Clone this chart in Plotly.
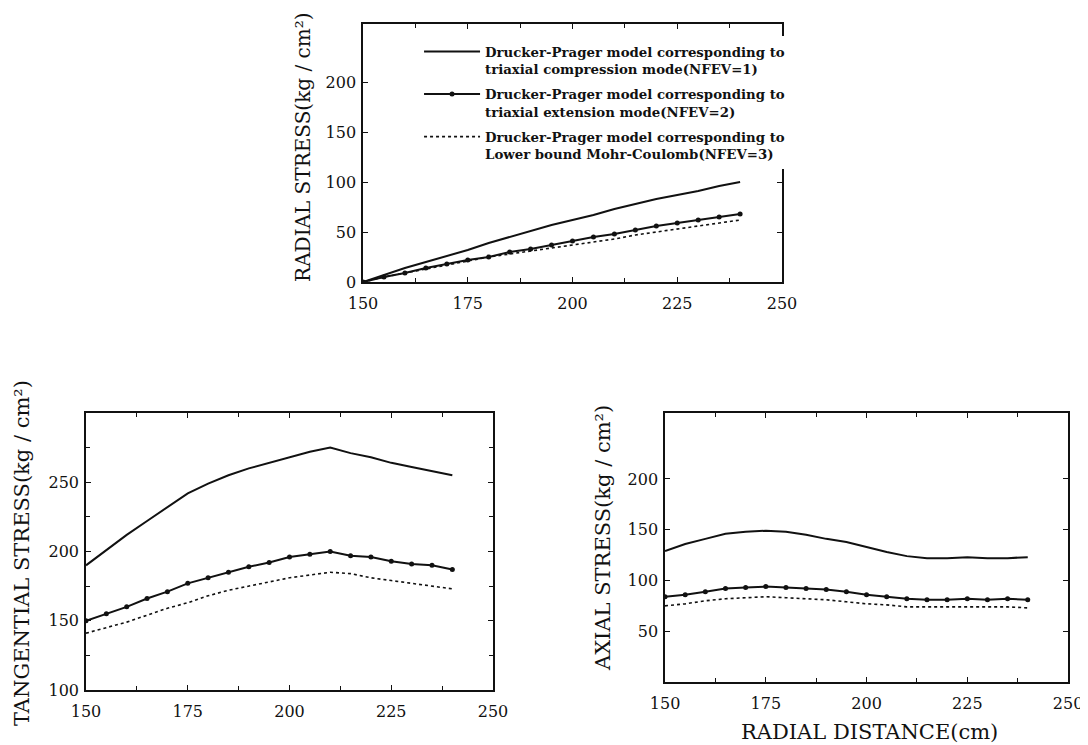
import plotly.graph_objects as go

# Radial distance (cm)
radial_distance = [150, 155, 160, 165, 170, 175, 180, 185, 190, 195, 200,
                   205, 210, 215, 220, 225, 230, 235, 240]

series_names = [
    "Drucker-Prager model corresponding to<br>triaxial compression mode(NFEV=1)",
    "Drucker-Prager model corresponding to<br>triaxial extension mode(NFEV=2)",
    "Drucker-Prager model corresponding to<br>Lower bound Mohr-Coulomb(NFEV=3)",
]

# Radial stress (kg/cm^2)
radial_nfev1 = [0, 7, 14, 20, 26, 32, 39, 45, 51, 57, 62, 67, 73, 78, 83, 87, 91, 96, 100]
radial_nfev2 = [0, 5, 9, 14, 18, 22, 25, 30, 33, 37, 41, 45, 48, 52, 56, 59, 62, 65, 68]
radial_nfev3 = [0, 5, 9, 13, 17, 21, 25, 28, 31, 34, 37, 40, 43, 47, 50, 53, 56, 59, 62]

# Tangential stress (kg/cm^2)
tang_nfev1 = [190, 201, 212, 222, 232, 242, 249, 255, 260, 264, 268, 272, 275, 271, 268, 264, 261, 258, 255]
tang_nfev2 = [150, 155, 160, 166, 171, 177, 181, 185, 189, 192, 196, 198, 200, 197, 196, 193, 191, 190, 187]
tang_nfev3 = [141, 145, 149, 154, 159, 163, 168, 172, 175, 178, 181, 183, 185, 184, 181, 179, 177, 175, 173]

# Axial stress (kg/cm^2)
axial_nfev1 = [129, 136, 141, 146, 148, 149, 148, 145, 141, 138, 133, 128, 124, 122, 122, 123, 122, 122, 123]
axial_nfev2 = [84, 86, 89, 92, 93, 94, 93, 92, 91, 89, 86, 84, 82, 81, 81, 82, 81, 82, 81]
axial_nfev3 = [75, 77, 80, 82, 83, 84, 83, 82, 81, 79, 77, 76, 74, 74, 74, 74, 74, 74, 73]

x_ticks = [150, 175, 200, 225, 250]
radial_ticks = [0, 50, 100, 150, 200]
tang_ticks = [100, 150, 200, 250]
axial_ticks = [50, 100, 150, 200]

FONT = "DejaVu Serif"
BLACK = "#111111"

styles = [
    dict(mode="lines", line=dict(color=BLACK, width=2)),
    dict(mode="lines+markers", line=dict(color=BLACK, width=2),
         marker=dict(color=BLACK, size=5, symbol="circle")),
    dict(mode="lines", line=dict(color=BLACK, width=1.6, dash="dot")),
]

fig = go.Figure()
panels = [
    ("x", "y", [radial_nfev1, radial_nfev2, radial_nfev3], True),
    ("x2", "y2", [tang_nfev1, tang_nfev2, tang_nfev3], False),
    ("x3", "y3", [axial_nfev1, axial_nfev2, axial_nfev3], False),
]
for xa, ya, data, show in panels:
    for i, vals in enumerate(data):
        fig.add_trace(go.Scatter(
            x=radial_distance, y=vals, xaxis=xa, yaxis=ya,
            name=series_names[i], showlegend=show, legendgroup=f"g{i}",
            **styles[i]))

TICKFONT = dict(family=FONT, size=16, color=BLACK)

def xaxis(domain, anchor):
    return dict(domain=domain, anchor=anchor, range=[150, 250], tickvals=x_ticks,
                showline=True, linecolor=BLACK, linewidth=1.5, mirror="ticks",
                ticks="inside", ticklen=5, tickcolor=BLACK, tickwidth=1.2,
                minor=dict(tickvals=[162.5, 187.5, 212.5, 237.5], ticks="inside",
                           ticklen=4, tickcolor=BLACK),
                showgrid=False, zeroline=False, automargin=False,
                tickfont=TICKFONT, ticklabelstandoff=6)

def yaxis(domain, anchor, rng, tickvals, minor=None):
    d = dict(domain=domain, anchor=anchor, range=rng, tickvals=tickvals,
             showline=True, linecolor=BLACK, linewidth=1.5, mirror="ticks",
             ticks="inside", ticklen=5, tickcolor=BLACK, tickwidth=1.2,
             showgrid=False, zeroline=False, automargin=False,
             tickfont=TICKFONT, ticklabelstandoff=2)
    if minor:
        d["minor"] = dict(tickvals=minor, ticks="inside", ticklen=4, tickcolor=BLACK)
    return d

titles = [
    dict(text="RADIAL STRESS(kg / cm²)", x=0.2711, y=0.8135, textangle=-90, size=20),
    dict(text="TANGENTIAL STRESS(kg / cm²)", x=0.0129, y=0.2685, textangle=-90, size=21),
    dict(text="AXIAL STRESS(kg / cm²)", x=0.5469, y=0.2886, textangle=-90, size=21),
    dict(text="RADIAL DISTANCE(cm)", x=0.7914, y=0.0282, textangle=0, size=21),
]
annotations = [dict(xref="paper", yref="paper", xanchor="center", yanchor="middle",
                    showarrow=False, text=t["text"], x=t["x"], y=t["y"],
                    textangle=t["textangle"],
                    font=dict(family=FONT, size=t["size"], color=BLACK)) for t in titles]

fig.update_layout(
    width=1088, height=745,
    margin=dict(l=0, r=0, t=0, b=0),
    paper_bgcolor="white", plot_bgcolor="white",
    font=dict(family=FONT, color=BLACK),
    xaxis=xaxis([0.3263, 0.7114], "y"),
    yaxis=yaxis([0.6322, 0.9785], "x", [0, 258], radial_ticks),
    xaxis2=xaxis([0.0717, 0.4458], "y2"),
    yaxis2=yaxis([0.0846, 0.4564], "x2", [100, 300], tang_ticks,
                 minor=[125, 175, 225, 275]),
    xaxis3=xaxis([0.6039, 0.9743], "y3"),
    yaxis3=yaxis([0.0953, 0.4564], "x3", [0, 265], axial_ticks),
    annotations=annotations,
    legend=dict(x=0.3778, y=0.962, xanchor="left", yanchor="top",
                bgcolor="white", valign="top", itemwidth=56,
                font=dict(family=FONT, size=13.3, color=BLACK, weight="bold"),
                traceorder="grouped", tracegroupgap=5),
)

fig.write_html("out.html")
